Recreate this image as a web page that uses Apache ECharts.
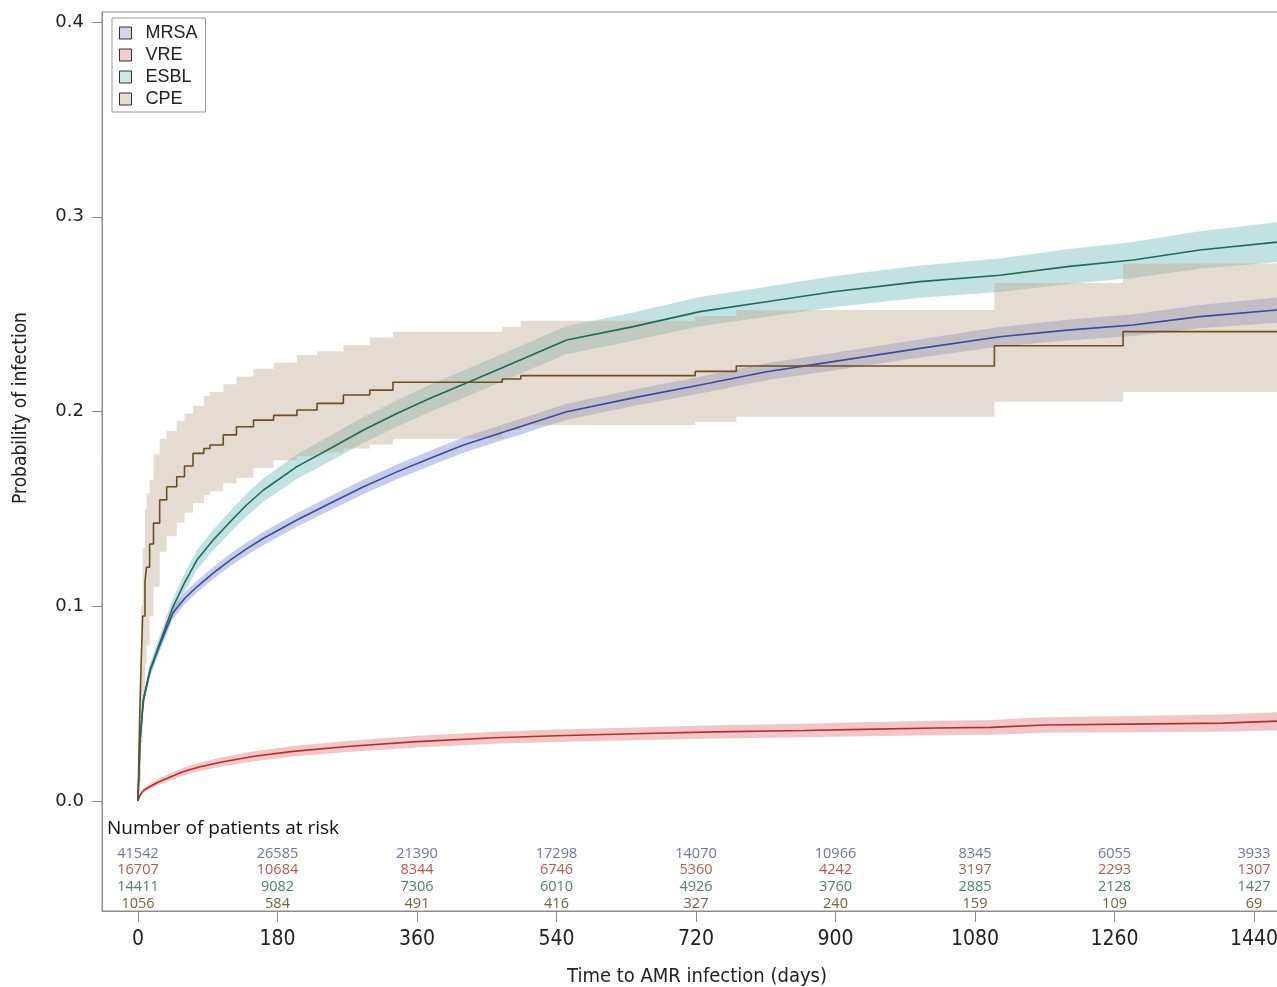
<!DOCTYPE html>
<html>
<head>
<meta charset="utf-8">
<script src="https://cdn.jsdelivr.net/npm/echarts@6.0.0/dist/echarts.min.js"></script>
<style>
  html, body { margin: 0; padding: 0; background: #fff; }
  #chart { width: 1277px; height: 987px; }
</style>
</head>
<body>
<div id="chart"></div>
<script>
// time grid shared by MRSA and ESBL (days)
const kmDays = [0, 2.6, 7, 15.5, 28, 45, 60, 76, 97, 119, 140, 162, 205, 248, 291, 334, 377, 420, 467, 553, 639, 725, 811, 897, 1009, 1112, 1199, 1284, 1370, 1470];
const mrsaEst = [0, 0.031, 0.052, 0.067, 0.080, 0.0965, 0.104, 0.110, 0.117, 0.1237, 0.1295, 0.1349, 0.1443, 0.1529, 0.1614, 0.169, 0.176, 0.1828, 0.1888, 0.1999, 0.207, 0.2136, 0.2204, 0.2256, 0.2324, 0.2384, 0.2418, 0.2444, 0.2487, 0.2521];
const mrsaCi = [0, 0.002, 0.0022, 0.0025, 0.0027, 0.003, 0.003, 0.003, 0.0031, 0.0032, 0.0033, 0.0034, 0.0035, 0.0036, 0.0037, 0.0038, 0.0039, 0.004, 0.004, 0.0041, 0.0042, 0.0043, 0.0044, 0.0045, 0.0047, 0.005, 0.0053, 0.0056, 0.006, 0.0065];
const esblEst = [0, 0.031, 0.052, 0.067, 0.081, 0.0996, 0.112, 0.1237, 0.134, 0.1434, 0.152, 0.1597, 0.1717, 0.181, 0.1905, 0.199, 0.2068, 0.214, 0.222, 0.2367, 0.2436, 0.2513, 0.2564, 0.2615, 0.2667, 0.270, 0.2744, 0.2778, 0.2829, 0.287];
const esblCi = [0, 0.003, 0.0033, 0.0036, 0.004, 0.0044, 0.0047, 0.005, 0.0053, 0.0055, 0.0058, 0.006, 0.0063, 0.0065, 0.0067, 0.0068, 0.0069, 0.007, 0.007, 0.0072, 0.0073, 0.0075, 0.0077, 0.008, 0.0083, 0.0086, 0.0089, 0.0092, 0.0096, 0.0102];

const vreDays = [0, 2, 5, 10, 15, 25, 37, 58, 80, 110, 150, 200, 270, 360, 460, 540, 640, 745, 860, 935, 1030, 1100, 1170, 1280, 1400, 1470];
const vreEst = [0, 0.0025, 0.0045, 0.0062, 0.0073, 0.0095, 0.0116, 0.015, 0.0176, 0.0202, 0.023, 0.0255, 0.028, 0.0305, 0.0325, 0.0335, 0.0345, 0.0355, 0.0362, 0.0368, 0.0375, 0.0378, 0.039, 0.0395, 0.040, 0.041];
const vreCi = [0, 0.0008, 0.001, 0.0012, 0.0014, 0.0016, 0.0018, 0.002, 0.0022, 0.0024, 0.0026, 0.0027, 0.0028, 0.003, 0.0031, 0.0032, 0.0033, 0.0034, 0.0035, 0.0036, 0.0037, 0.0038, 0.004, 0.0042, 0.0044, 0.0046];

// CPE is a coarse step function
const cpeDays = [0, 2, 4, 6, 9, 11, 15, 20, 28, 37, 50, 60, 71, 85, 93, 110, 127, 149, 175, 205, 231, 265, 299, 329, 470, 494, 719, 772, 1105, 1271, 1489];
const cpeEst = [0, 0.04, 0.07, 0.095, 0.113, 0.120, 0.132, 0.1427, 0.1546, 0.1614, 0.1665, 0.172, 0.1785, 0.181, 0.1828, 0.188, 0.1922, 0.1956, 0.198, 0.2008, 0.2042, 0.2085, 0.211, 0.215, 0.2167, 0.2184, 0.2206, 0.2234, 0.2338, 0.241, 0.241];
const cpeLo = [0, 0.01, 0.03, 0.05, 0.07, 0.08, 0.095, 0.11, 0.128, 0.136, 0.143, 0.148, 0.153, 0.157, 0.159, 0.163, 0.166, 0.171, 0.175, 0.177, 0.179, 0.181, 0.183, 0.186, 0.1905, 0.1931, 0.1948, 0.1973, 0.205, 0.210, 0.210];
const cpeHi = [0, 0.06, 0.10, 0.13, 0.15, 0.158, 0.165, 0.178, 0.186, 0.19, 0.195, 0.199, 0.203, 0.208, 0.21, 0.214, 0.218, 0.222, 0.225, 0.229, 0.231, 0.234, 0.238, 0.241, 0.2435, 0.2466, 0.249, 0.2521, 0.266, 0.276, 0.276];

// number at risk table
const riskDays = [0, 180, 360, 540, 720, 900, 1080, 1260, 1440];
const mrsaRisk = [41542, 26585, 21390, 17298, 14070, 10966, 8345, 6055, 3933];
const vreRisk = [16707, 10684, 8344, 6746, 5360, 4242, 3197, 2293, 1307];
const esblRisk = [14411, 9082, 7306, 6010, 4926, 3760, 2885, 2128, 1427];
const cpeRisk = [1056, 584, 491, 416, 327, 240, 159, 109, 69];

const groups = [
  { name: 'MRSA', line: '#3b4a9a', band: 'rgba(120,135,205,0.42)', text: '#48508f', swatch: '#d3d6ea' },
  { name: 'VRE', line: '#b2302c', band: 'rgba(225,120,120,0.42)', text: '#9e2f25', swatch: '#f1cccc' },
  { name: 'ESBL', line: '#1d6a5a', band: 'rgba(110,185,185,0.42)', text: '#235f50', swatch: '#cfe6e6' },
  { name: 'CPE', line: '#6e4d1e', band: 'rgba(190,170,145,0.42)', text: '#4d3812', swatch: '#e6ddd2' }
];

const chart = echarts.init(document.getElementById('chart'), null, { renderer: 'canvas' });

// confidence band as a polygon built through the axes
function band(name, days, lo, hi, color, stepped) {
  return {
    name: name, type: 'custom', silent: true, z: 1, data: [0],
    renderItem: function (params, api) {
      const top = [], bot = [];
      for (let i = 0; i < days.length; i++) {
        if (stepped && i > 0) {
          top.push(api.coord([days[i], hi[i - 1]]));
          bot.push(api.coord([days[i], lo[i - 1]]));
        }
        top.push(api.coord([days[i], hi[i]]));
        bot.push(api.coord([days[i], lo[i]]));
      }
      return { type: 'polygon', shape: { points: top.concat(bot.reverse()) }, style: { fill: color } };
    }
  };
}

function curve(name, days, est, color, step) {
  return { name: name, type: 'line', step: step, symbol: 'none', z: 5, silent: true,
    lineStyle: { color: color, width: 1.6 }, data: days.map((d, i) => [d, est[i]]) };
}

const series = [
  band('MRSA', kmDays, kmDays.map((d, i) => mrsaEst[i] - mrsaCi[i]), kmDays.map((d, i) => mrsaEst[i] + mrsaCi[i]), groups[0].band, false),
  band('VRE', vreDays, vreDays.map((d, i) => vreEst[i] - vreCi[i]), vreDays.map((d, i) => vreEst[i] + vreCi[i]), groups[1].band, false),
  band('ESBL', kmDays, kmDays.map((d, i) => esblEst[i] - esblCi[i]), kmDays.map((d, i) => esblEst[i] + esblCi[i]), groups[2].band, false),
  band('CPE', cpeDays, cpeLo, cpeHi, groups[3].band, true),
  curve('MRSA', kmDays, mrsaEst, groups[0].line, false),
  curve('VRE', vreDays, vreEst, groups[1].line, false),
  curve('ESBL', kmDays, esblEst, groups[2].line, false),
  curve('CPE', cpeDays, cpeEst, groups[3].line, 'end')
];

// at-risk rows, drawn as labels in the lower part of the frame
const riskRows = [mrsaRisk, vreRisk, esblRisk, cpeRisk];
const riskRowY = [-0.0272, -0.0354, -0.0442, -0.0529];
riskRows.forEach((row, r) => {
  series.push({
    type: 'scatter', symbolSize: 0, silent: true, z: 6,
    data: riskDays.map((d, i) => [d, riskRowY[r], row[i]]),
    label: { show: true, position: 'inside', formatter: p => p.value[2],
      color: groups[r].text, fontSize: 14.5, fontFamily: '"Open Sans", sans-serif' }
  });
});

const narrow = '"Liberation Sans Narrow", "DejaVu Sans Condensed", sans-serif';

const option = {
  animation: false,
  backgroundColor: '#fff',
  grid: {
    left: 102, top: 12, width: 1190, height: 899,
    show: true, borderColor: '#8c8c8c', borderWidth: 1,
    outerBoundsMode: 'none', containLabel: false
  },
  legend: {
    orient: 'vertical', left: 112, top: 18,
    icon: 'rect', itemWidth: 12, itemHeight: 12, itemGap: 0,
    padding: [4, 8, 2, 7],
    borderColor: '#999', borderWidth: 1,
    textStyle: { fontSize: 18, lineHeight: 22, color: '#222', fontFamily: '"Liberation Sans", Arial, sans-serif', padding: [0, 0, 0, 9] },
    data: groups.map(g => ({ name: g.name, itemStyle: { color: g.swatch, borderColor: '#333', borderWidth: 1 } }))
  },
  xAxis: {
    type: 'value', min: -46.45, max: 1489,
    name: 'Time to AMR infection (days)', nameLocation: 'middle', nameGap: 56,
    nameTextStyle: { fontSize: 20, color: '#222', fontFamily: narrow },
    axisLine: { show: true, onZero: false, lineStyle: { color: '#8c8c8c' } },
    axisTick: { show: true, length: 11, lineStyle: { color: '#8c8c8c' }, customValues: riskDays },
    axisLabel: { margin: 18, fontSize: 21, color: '#222', customValues: riskDays,
      formatter: v => String(v), fontFamily: narrow },
    splitLine: { show: false }
  },
  yAxis: {
    type: 'value', min: -0.05648, max: 0.40514,
    axisLine: { show: true, onZero: false, lineStyle: { color: '#8c8c8c' } },
    axisTick: { show: true, length: 10, lineStyle: { color: '#8c8c8c' }, customValues: [0, 0.1, 0.2, 0.3, 0.4] },
    axisLabel: { margin: 18, fontSize: 18, color: '#222', customValues: [0, 0.1, 0.2, 0.3, 0.4],
      formatter: v => v.toFixed(1), fontFamily: '"DejaVu Sans", sans-serif' },
    splitLine: { show: false }
  },
  graphic: [
    { type: 'text', x: 21, y: 408, rotation: Math.PI / 2,
      style: { text: 'Probability of infection', fill: '#222', align: 'center', verticalAlign: 'middle',
        font: '19px ' + narrow } },
    { type: 'text', left: 107, top: 819,
      style: { text: 'Number of patients at risk', fill: '#111',
        font: '19px "Open Sans", sans-serif' } }
  ],
  series: series
};

chart.setOption(option);
window.addEventListener('resize', () => chart.resize());
</script>
</body>
</html>
